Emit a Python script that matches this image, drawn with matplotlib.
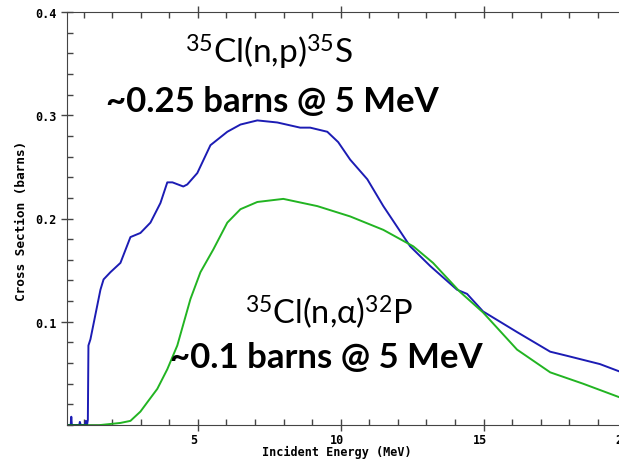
import numpy as np
import matplotlib
matplotlib.use('Agg')
import matplotlib.pyplot as plt
from matplotlib.ticker import MultipleLocator
from matplotlib.transforms import ScaledTranslation

# 35Cl(n,p)35S cross section (MeV, barns)
np_energy = [0.42, 0.55, 0.57, 0.59, 0.85, 0.87, 0.90, 1.05, 1.08, 1.12, 1.15, 1.17,
             1.24, 1.59, 1.70, 1.94, 2.29, 2.64, 2.99, 3.34, 3.69, 3.93, 4.11,
             4.49, 4.63, 4.98, 5.44, 6.03, 6.49, 7.08, 7.78, 8.58, 8.93, 9.53,
             9.91, 10.33, 10.93, 11.49, 12.43, 13.13, 14.07, 14.42, 14.98, 16.17,
             17.33, 17.92, 19.07, 19.74, 20.0]
np_xs = [0.0, 0.0, 0.008, 0.0, 0.0, 0.003, 0.0, 0.0, 0.004, 0.0, 0.005, 0.077,
         0.083, 0.131, 0.141, 0.148, 0.157, 0.182, 0.186, 0.196, 0.215, 0.235, 0.235,
         0.231, 0.233, 0.244, 0.271, 0.284, 0.291, 0.295, 0.293, 0.288, 0.288, 0.284,
         0.274, 0.257, 0.238, 0.212, 0.173, 0.154, 0.131, 0.127, 0.110, 0.090,
         0.071, 0.067, 0.059, 0.052, 0.051]

# 35Cl(n,alpha)32P cross section
na_energy_low = [0.42, 1.6]
na_xs_low = [0.0, 0.0]
na_energy = [1.6, 2.29, 2.64, 2.99, 3.23, 3.58, 3.93, 4.28, 4.74, 5.09, 5.54,
             6.03, 6.49, 7.08, 7.99, 9.18, 10.33, 11.49, 12.54, 13.23, 14.17,
             14.98, 16.17, 17.33, 18.48, 19.74, 20.0]
na_xs = [0.0, 0.002, 0.004, 0.013, 0.022, 0.035, 0.054, 0.077, 0.122, 0.148, 0.170,
         0.196, 0.209, 0.216, 0.219, 0.212, 0.202, 0.189, 0.173, 0.157, 0.129,
         0.109, 0.073, 0.051, 0.040, 0.027, 0.025]

plt.rcParams['font.family'] = ['Lato', 'DejaVu Sans']
plt.rcParams['mathtext.default'] = 'regular'

fig = plt.figure(figsize=(6.19, 4.6), dpi=100)
ax = fig.add_axes([67 / 619, 1 - 426 / 460, 559.5 / 619, 413 / 460])

ax.plot(np_energy, np_xs, color='#1c1cb4', lw=1.4)
ax.plot(na_energy_low, na_xs_low, color='#0a7a0a', lw=1.8)
ax.plot(na_energy, na_xs, color='#22b422', lw=1.4)

ax.set_xlim(0.42, 20)
ax.set_ylim(0, 0.4)
ax.xaxis.set_major_locator(MultipleLocator(5))
ax.xaxis.set_minor_locator(MultipleLocator(1))
ax.yaxis.set_major_locator(MultipleLocator(0.1))
ax.yaxis.set_minor_locator(MultipleLocator(0.02))
ax.set_yticks([0.1, 0.2, 0.3, 0.4])
ax.tick_params(which='major', direction='inout', length=8, width=1, color='#444444',
               top=True, right=True)
ax.tick_params(which='minor', direction='in', length=4, width=1, color='#444444',
               top=True, right=True)
ax.tick_params(axis='x', pad=2)
for s in ax.spines.values():
    s.set_color('#444444')

mono = dict(family='DejaVu Sans Mono', weight='bold', size=8.5)
shift = ScaledTranslation(-4 / 100, 0, fig.dpi_scale_trans)
for lab in ax.get_xticklabels():
    lab.set_fontproperties(matplotlib.font_manager.FontProperties(**mono))
    lab.set_transform(lab.get_transform() + shift)
for lab in ax.get_yticklabels():
    lab.set_fontproperties(matplotlib.font_manager.FontProperties(**mono))
ax.set_xlabel('Incident Energy (MeV)', fontdict=mono)
ax.set_ylabel('Cross Section (barns)', fontdict=dict(mono, size=9.2))
ax.xaxis.set_label_coords(0.483, -0.049)
ax.yaxis.set_label_coords(-0.070, 0.496)

ax.text(7.5, 0.362, '$^{35}$Cl(n,p)$^{35}$S', fontsize=24, ha='center', va='center')
ax.text(7.6, 0.314, '~0.25 barns @ 5 MeV', fontsize=25, fontweight='bold',
        ha='center', va='center')
ax.text(9.6, 0.110, '$^{35}$Cl(n,α)$^{32}$P', fontsize=23.5, ha='center', va='center')
ax.text(9.5, 0.066, '~0.1 barns @ 5 MeV', fontsize=25, fontweight='bold',
        ha='center', va='center')

fig.savefig('out.png', dpi=100)
